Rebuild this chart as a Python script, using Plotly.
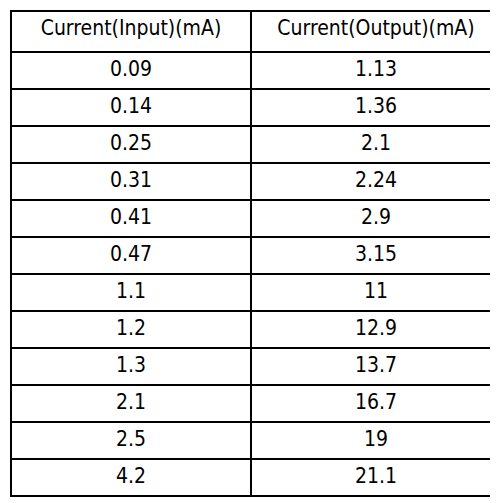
import plotly.graph_objects as go

headers = ["Current(Input)(mA)", "Current(Output)(mA)"]
current_input = ["0.09", "0.14", "0.25", "0.31", "0.41", "0.47", "1.1", "1.2", "1.3", "2.1", "2.5", "4.2"]
current_output = ["1.13", "1.36", "2.1", "2.24", "2.9", "3.15", "11", "12.9", "13.7", "16.7", "19", "21.1"]

fig = go.Figure(go.Table(
    columnwidth=[240, 250],
    header=dict(values=headers, height=41, align="center",
                line=dict(color="black", width=1.5), fill=dict(color="white"),
                font=dict(family="DejaVu Sans Condensed", size=21, color="black")),
    cells=dict(values=[current_input, current_output], height=37, align="center",
               line=dict(color="black", width=1.5), fill=dict(color="white"),
               font=dict(family="DejaVu Sans Condensed", size=21, color="black")),
))
fig.update_layout(width=498, height=503, margin=dict(l=3, r=5, t=3, b=8),
                  paper_bgcolor="white")
fig.write_html("out.html")
